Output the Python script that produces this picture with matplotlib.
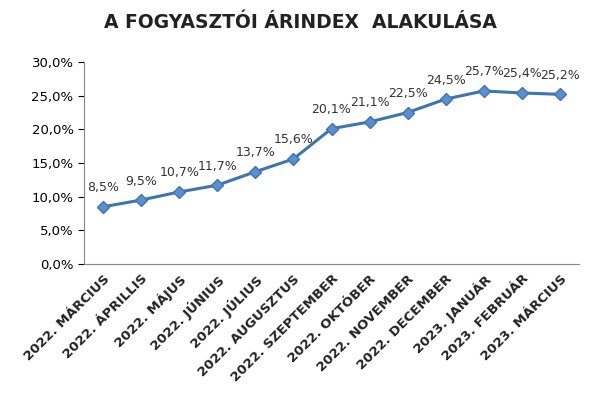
import matplotlib
matplotlib.use('Agg')
import matplotlib.pyplot as plt

months = ["2022. MÁRCIUS", "2022. ÁPRILLIS", "2022. MÁJUS", "2022. JÚNIUS", "2022. JÚLIUS",
          "2022. AUGUSZTUS", "2022. SZEPTEMBER", "2022. OKTÓBER", "2022. NOVEMBER",
          "2022. DECEMBER", "2023. JANUÁR", "2023. FEBRUÁR", "2023. MÁRCIUS"]
values = [8.5, 9.5, 10.7, 11.7, 13.7, 15.6, 20.1, 21.1, 22.5, 24.5, 25.7, 25.4, 25.2]
yticks = [0, 5, 10, 15, 20, 25, 30]

def pct(v):
    return ("%.1f%%" % v).replace(".", ",")

fig = plt.figure(figsize=(6, 4), dpi=100)
ax = fig.add_axes([0.14, 0.34, 0.825, 0.505])
x = list(range(len(values)))
ax.plot(x, values, color="#3f74ad", linewidth=2.2, marker="D", markersize=6,
        markerfacecolor="#5b8fd0", markeredgecolor="#3f74ad")
for xi, v in zip(x, values):
    ax.annotate(pct(v), (xi, v), textcoords="offset points", xytext=(0, 9),
                ha="center", va="bottom", fontsize=9, color="#333333")

ax.set_ylim(0, 30)
ax.set_xlim(-0.5, len(values) - 0.5)
ax.set_yticks(yticks)
ax.set_yticklabels([pct(t) for t in yticks], fontsize=9.5)
ax.set_xticks(x)
ax.set_xticklabels(months, rotation=45, ha="right", rotation_mode="anchor",
                   fontsize=9.5, fontweight="bold", color="#222222")
ax.tick_params(axis="x", length=0, pad=6)
ax.tick_params(axis="y", length=4)
for s in ["top", "right"]:
    ax.spines[s].set_visible(False)
ax.spines["left"].set_color("#888888")
ax.spines["bottom"].set_color("#888888")

fig.text(0.5, 0.945, "A FOGYASZTÓI ÁRINDEX  ALAKULÁSA",
         ha="center", va="center", fontsize=13.5, fontweight="bold", color="#222222")
fig.savefig("out.png", dpi=100)
